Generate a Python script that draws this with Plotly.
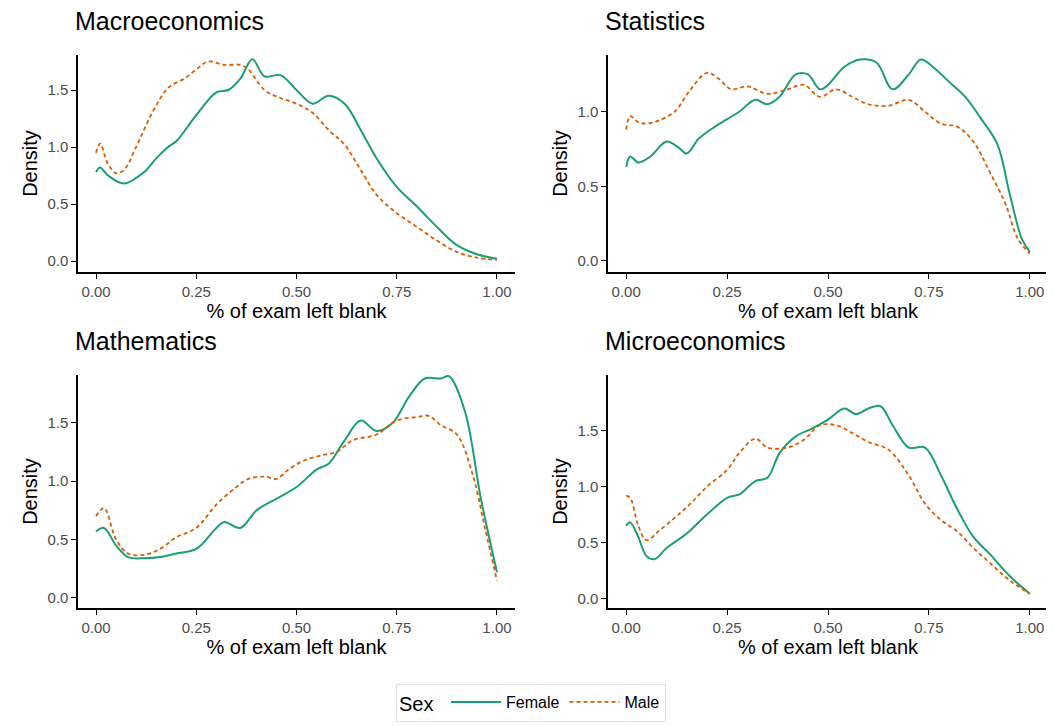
import plotly.graph_objects as go

W, H = 1054, 726
OFF = 8  # page body margin in the browser
subjects = ["Macroeconomics", "Statistics", "Mathematics", "Microeconomics"]

mac_f_x = [0,0.01,0.03,0.07,0.12,0.15,0.18,0.2,0.25,0.3,0.33,0.36,0.39,0.42,0.46,0.5,0.54,0.58,0.62,0.66,0.7,0.75,0.8,0.85,0.9,0.95,1.0]
mac_f_y = [0.78,0.82,0.75,0.68,0.78,0.9,1.0,1.05,1.28,1.48,1.5,1.6,1.77,1.62,1.63,1.5,1.38,1.45,1.38,1.15,0.9,0.65,0.48,0.3,0.14,0.06,0.02]
mac_m_x = [0,0.01,0.03,0.05,0.07,0.1,0.14,0.18,0.22,0.25,0.28,0.32,0.36,0.38,0.42,0.46,0.5,0.54,0.58,0.62,0.66,0.7,0.75,0.8,0.85,0.9,0.95,1.0]
mac_m_y = [0.95,1.03,0.85,0.77,0.8,1.0,1.3,1.52,1.6,1.68,1.75,1.72,1.72,1.68,1.5,1.43,1.38,1.3,1.15,1.02,0.8,0.58,0.42,0.3,0.18,0.08,0.03,0.01]

sta_f_x = [0,0.01,0.03,0.06,0.1,0.13,0.15,0.18,0.22,0.25,0.28,0.32,0.35,0.38,0.42,0.45,0.48,0.5,0.54,0.58,0.62,0.66,0.7,0.73,0.76,0.8,0.84,0.88,0.92,0.95,0.98,1.0]
sta_f_y = [0.63,0.7,0.66,0.7,0.8,0.76,0.72,0.82,0.9,0.95,1.0,1.08,1.05,1.1,1.25,1.25,1.15,1.18,1.3,1.35,1.33,1.15,1.25,1.35,1.3,1.2,1.1,0.95,0.78,0.45,0.15,0.06]
sta_m_x = [0,0.01,0.03,0.05,0.08,0.12,0.16,0.2,0.23,0.26,0.3,0.35,0.4,0.44,0.48,0.52,0.56,0.6,0.65,0.7,0.74,0.78,0.82,0.86,0.9,0.94,0.97,1.0]
sta_m_y = [0.88,0.97,0.93,0.92,0.94,1.0,1.15,1.26,1.22,1.15,1.17,1.12,1.15,1.18,1.1,1.15,1.1,1.05,1.04,1.08,1.0,0.92,0.9,0.8,0.6,0.38,0.15,0.05]

mat_f_x = [0,0.02,0.05,0.08,0.12,0.16,0.2,0.25,0.3,0.32,0.36,0.4,0.45,0.5,0.55,0.58,0.62,0.66,0.7,0.74,0.78,0.82,0.86,0.88,0.92,0.96,1.0]
mat_f_y = [0.57,0.6,0.45,0.35,0.34,0.35,0.38,0.42,0.6,0.65,0.6,0.75,0.85,0.95,1.1,1.15,1.35,1.52,1.43,1.5,1.72,1.88,1.88,1.9,1.6,0.85,0.22]
mat_m_x = [0,0.02,0.05,0.08,0.12,0.16,0.2,0.25,0.3,0.35,0.38,0.42,0.45,0.48,0.52,0.56,0.6,0.64,0.7,0.75,0.8,0.83,0.86,0.9,0.94,0.97,1.0]
mat_m_y = [0.7,0.77,0.5,0.38,0.37,0.42,0.52,0.6,0.8,0.95,1.02,1.04,1.02,1.1,1.18,1.22,1.25,1.35,1.4,1.52,1.55,1.56,1.48,1.4,1.05,0.6,0.15]

mic_f_x = [0,0.01,0.03,0.05,0.07,0.1,0.15,0.2,0.25,0.28,0.32,0.35,0.38,0.42,0.46,0.5,0.54,0.57,0.6,0.63,0.66,0.7,0.74,0.78,0.82,0.86,0.9,0.95,1.0]
mic_f_y = [0.65,0.68,0.55,0.38,0.35,0.45,0.58,0.75,0.9,0.93,1.05,1.08,1.3,1.45,1.52,1.6,1.7,1.65,1.7,1.72,1.55,1.35,1.35,1.1,0.8,0.55,0.4,0.2,0.04]
mic_m_x = [0,0.01,0.03,0.05,0.08,0.12,0.16,0.2,0.25,0.28,0.32,0.35,0.4,0.44,0.48,0.52,0.56,0.6,0.65,0.7,0.74,0.78,0.82,0.86,0.9,0.95,1.0]
mic_m_y = [0.92,0.9,0.65,0.52,0.6,0.72,0.85,1.0,1.15,1.3,1.43,1.35,1.35,1.42,1.55,1.55,1.48,1.4,1.33,1.1,0.85,0.7,0.6,0.45,0.32,0.16,0.04]

female = [(mac_f_x, mac_f_y), (sta_f_x, sta_f_y), (mat_f_x, mat_f_y), (mic_f_x, mic_f_y)]
male = [(mac_m_x, mac_m_y), (sta_m_x, sta_m_y), (mat_m_x, mat_m_y), (mic_m_x, mic_m_y)]

xticks = [0, 0.25, 0.5, 0.75, 1.0]
xticklabels = ["0.00", "0.25", "0.50", "0.75", "1.00"]
yticks = [0, 0.5, 1.0, 1.5]
yticklabels = ["0.0", "0.5", "1.0", "1.5"]

GREEN, ORANGE = "#1B9E77", "#D95F02"

def px_x(p):
    return (p - OFF) / W

def px_y(p):
    return 1 - (p - OFF) / H

xdom = [(px_x(78), px_x(515)), (px_x(608), px_x(1048))]
ydom_top = (px_y(272), px_y(55))
ydom_bot = (px_y(608), px_y(375))
panels = [
    (xdom[0], ydom_top, [-0.096, 1.807]),
    (xdom[1], ydom_top, [-0.074, 1.38]),
    (xdom[0], ydom_bot, [-0.086, 1.91]),
    (xdom[1], ydom_bot, [-0.087, 2.0]),
]

fig = go.Figure()
layout = {}
annotations = []
for i, (xd, yd, yr) in enumerate(panels):
    n = "" if i == 0 else str(i + 1)
    fx, fy = female[i]
    mx, my = male[i]
    fig.add_trace(go.Scatter(x=fx, y=fy, mode="lines", name="Female", legendgroup="F",
                             showlegend=(i == 0), line=dict(color=GREEN, width=2, shape="spline"),
                             xaxis="x" + n, yaxis="y" + n))
    fig.add_trace(go.Scatter(x=mx, y=my, mode="lines", name="Male", legendgroup="M",
                             showlegend=(i == 0), line=dict(color=ORANGE, width=1.8, dash="4px,3px", shape="spline"),
                             xaxis="x" + n, yaxis="y" + n))
    layout["xaxis" + n] = dict(domain=list(xd), anchor="y" + n, range=[-0.045, 1.045], automargin=False,
                               tickvals=xticks, ticktext=xticklabels, showgrid=False, zeroline=False,
                               showline=True, linecolor="black", linewidth=1.5, ticks="outside",
                               ticklen=5, tickcolor="black", tickfont=dict(size=15, color="#4d4d4d"),
                               title=dict(text="% of exam left blank", font=dict(size=20, color="black"), standoff=2))
    layout["yaxis" + n] = dict(domain=list(yd), anchor="x" + n, range=yr, automargin=False,
                               tickvals=yticks, ticktext=yticklabels, showgrid=False, zeroline=False,
                               showline=True, linecolor="black", linewidth=1.5, ticks="outside",
                               ticklen=5, tickcolor="black", tickfont=dict(size=15, color="#4d4d4d"),
                               title=dict(text="Density", font=dict(size=20, color="black"), standoff=4))
    annotations.append(dict(text=subjects[i], x=xd[0] - 5/W, y=yd[1] + 18/H, xref="paper", yref="paper",
                            xanchor="left", yanchor="bottom", showarrow=False,
                            font=dict(size=25, color="black")))

fig.update_layout(**layout)
fig.update_layout(width=W, height=H, margin=dict(l=0, r=0, t=0, b=0, autoexpand=False),
                  paper_bgcolor="white", plot_bgcolor="white",
                  font=dict(family="Liberation Sans, Arial, sans-serif"),
                  annotations=annotations,
                  legend=dict(orientation="h", x=px_x(531), xanchor="center", y=px_y(703), yanchor="middle",
                              title=dict(text="Sex ", font=dict(size=20, color="black")),
                              font=dict(size=16, color="black"),
                              bordercolor="#dddddd", borderwidth=1, itemwidth=50))
fig.write_html("out.html")
